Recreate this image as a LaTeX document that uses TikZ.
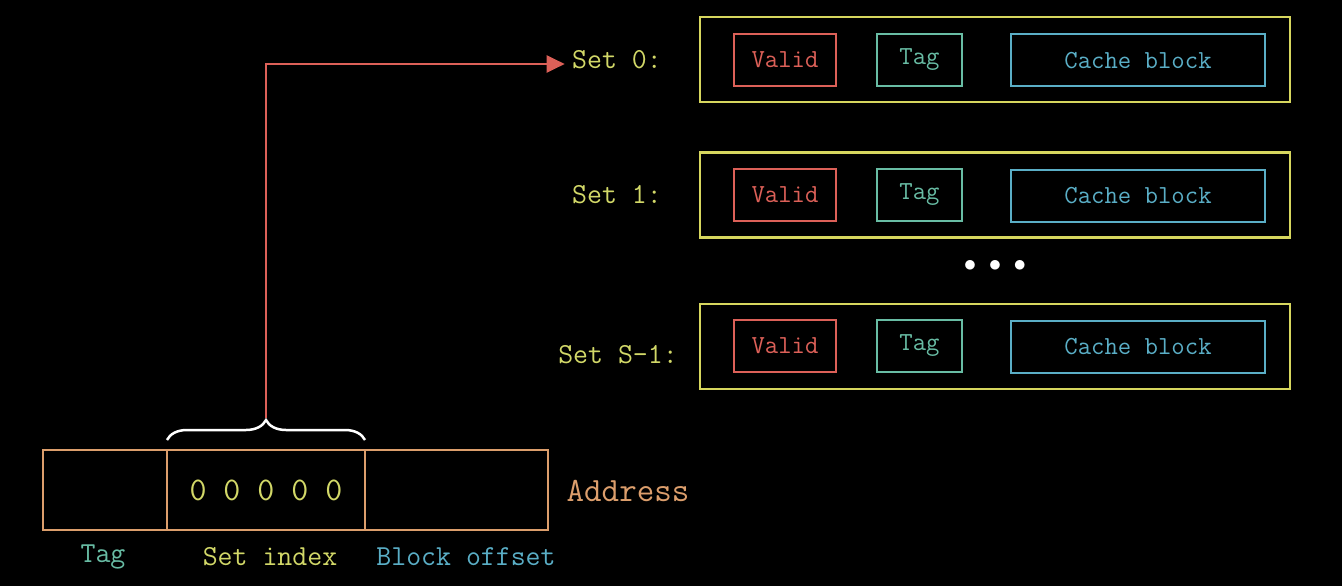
\documentclass[tikz,border=0pt]{standalone}
\usetikzlibrary{arrows.meta,decorations.pathreplacing}

\definecolor{setyellow}{HTML}{D6D65E}
\definecolor{lblyellow}{HTML}{D2D868}
\definecolor{validred}{HTML}{DC6058}
\definecolor{tagteal}{HTML}{68BCA4}
\definecolor{blockblue}{HTML}{5AAEC6}
\definecolor{addrorange}{HTML}{DC9E6C}

\newcommand{\boxfont}{\ttfamily\fontsize{26}{30}\selectfont}
\newcommand{\lblfont}{\ttfamily\fontsize{29}{32}\selectfont}

\tikzset{
    setbox/.style={draw=setyellow, line width=2.5pt, minimum width=590pt, minimum height=85pt, inner sep=0pt},
    validbox/.style={draw=validred, text=validred, line width=2pt, minimum width=102pt, minimum height=52pt, inner sep=0pt, font=\boxfont},
    tagbox/.style={draw=tagteal, text=tagteal, line width=2pt, minimum width=85pt, minimum height=52pt, inner sep=0pt, font=\boxfont},
    blockbox/.style={draw=blockblue, text=blockblue, line width=2pt, minimum width=254pt, minimum height=52pt, inner sep=0pt, font=\boxfont},
    setlbl/.style={text=lblyellow, font=\lblfont},
    addrcell/.style={draw=addrorange, line width=2pt, minimum height=80pt, inner sep=0pt, outer sep=0pt}
}

\begin{document}
\begin{tikzpicture}[x=1pt, y=-1pt]
    \fill[black] (0,0) rectangle (1342,586);
    \useasboundingbox (0,0) rectangle (1342,586);

    %Set 0
    \node[setbox] (set0) at (995,59.5) {};
    \node[validbox] (valid0) at (785,60) {Valid};
    \node[tagbox] (tag0) at (919.5,60) {Tag};
    \node[blockbox] (block0) at (1138,60.5) {Cache block};
    \node[setlbl] (lbl0) at (617,60) {Set 0:};

    %Set 1
    \node[setbox] (set1) at (995,195) {};
    \node[validbox] (valid1) at (785,195) {Valid};
    \node[tagbox] (tag1) at (919.5,195) {Tag};
    \node[blockbox] (block1) at (1138,195.5) {Cache block};
    \node[setlbl] (lbl1) at (617,195) {Set 1:};

    \node[text=white] (dots) at (995,266) {\fontsize{32}{32}\selectfont$\bullet\;\bullet\;\bullet$};

    %Set S-1
    \node[setbox] (setS) at (995,346.5) {};
    \node[validbox] (validS) at (785,346) {Valid};
    \node[tagbox] (tagS) at (919.5,346) {Tag};
    \node[blockbox] (blockS) at (1138,346.5) {Cache block};
    \node[setlbl] (lblS) at (618,355) {Set S-1:};

    %Address
    \node[addrcell, minimum width=124pt] (tagcell) at (105,490) {};
    \node[addrcell, minimum width=198pt, text=lblyellow, font=\ttfamily\fontsize{33}{36}\selectfont] (setcell) at (266,490) {0 0 0 0 0};
    \node[addrcell, minimum width=183pt] (offcell) at (456.5,490) {};
    \node[text=addrorange, font=\ttfamily\fontsize{34}{36}\selectfont] (addr) at (628,491) {Address};

    \node[text=tagteal, font=\lblfont] (tagtxt) at (103,557) {Tag};
    \node[text=lblyellow, font=\lblfont] (settxt) at (270,557) {Set index};
    \node[text=blockblue, font=\lblfont] (offtxt) at (466,557) {Block offset};

    %Brace and pointer
    \draw[white, line width=2.5pt, decorate, decoration={brace, amplitude=20pt}]
        ([yshift=10pt]setcell.north west) -- ([yshift=10pt]setcell.north east);
    \coordinate (bracetip) at ([yshift=32pt]setcell.north);
    \draw[validred, line width=2.5pt, shorten >=4pt, -{Triangle[length=18pt,width=17pt]}]
        (bracetip) |- ([yshift=-4pt]lbl0.west);
\end{tikzpicture}
\end{document}
